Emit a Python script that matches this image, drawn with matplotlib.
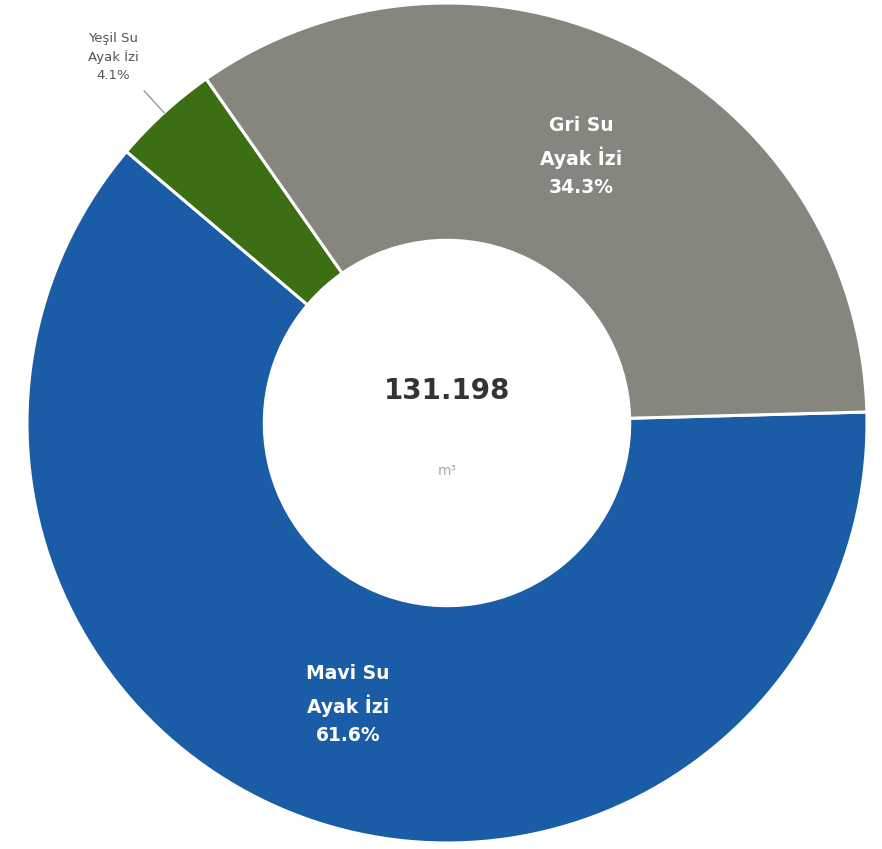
import matplotlib.pyplot as plt
import numpy as np

# data
labels = ['Mavi Su\nAyak İzi', 'Yeşil Su\nAyak İzi', 'Gri Su\nAyak İzi']
shares = [61.6, 4.1, 34.3]
colors = ['#1A5DA6', '#3C6E14', '#86867E']
total_text = '131.198'
unit_text = 'm³'

fig = plt.figure(figsize=(8.82, 8.49), dpi=100)
ax = fig.add_axes([27 / 882, 6 / 849, 840 / 882, 840 / 849])

wedges, _ = ax.pie(shares, colors=colors, startangle=1.5, counterclock=False,
                   radius=1.0, wedgeprops=dict(width=0.565, edgecolor='white', linewidth=2.2))

for i, w in enumerate(wedges):
    mid = np.deg2rad((w.theta1 + w.theta2) / 2)
    txt = labels[i] + '\n' + ('%.1f%%' % shares[i])
    if shares[i] > 10:
        ax.text(0.71 * np.cos(mid), 0.71 * np.sin(mid), txt, ha='center', va='center',
                color='white', fontsize=13.5, fontweight='bold', linespacing=1.62)
    else:
        # small slice: label outside with a leader line
        ax.plot([np.cos(mid), 1.07 * np.cos(mid)], [np.sin(mid), 1.07 * np.sin(mid)],
                color='#999999', lw=1)
        ax.text(1.18 * np.cos(mid), 1.18 * np.sin(mid), txt, ha='center', va='center',
                color='#555555', fontsize=9.5, linespacing=1.5)

ax.text(0, 0.075, total_text, ha='center', va='center', fontsize=20,
        fontweight='bold', color='#333333')
ax.text(0, -0.115, unit_text, ha='center', va='center', fontsize=10, color='#AAAAAA')

ax.set_xlim(-1, 1)
ax.set_ylim(-1, 1)
ax.set_aspect('equal')
ax.axis('off')

fig.savefig('out.png', dpi=100)
